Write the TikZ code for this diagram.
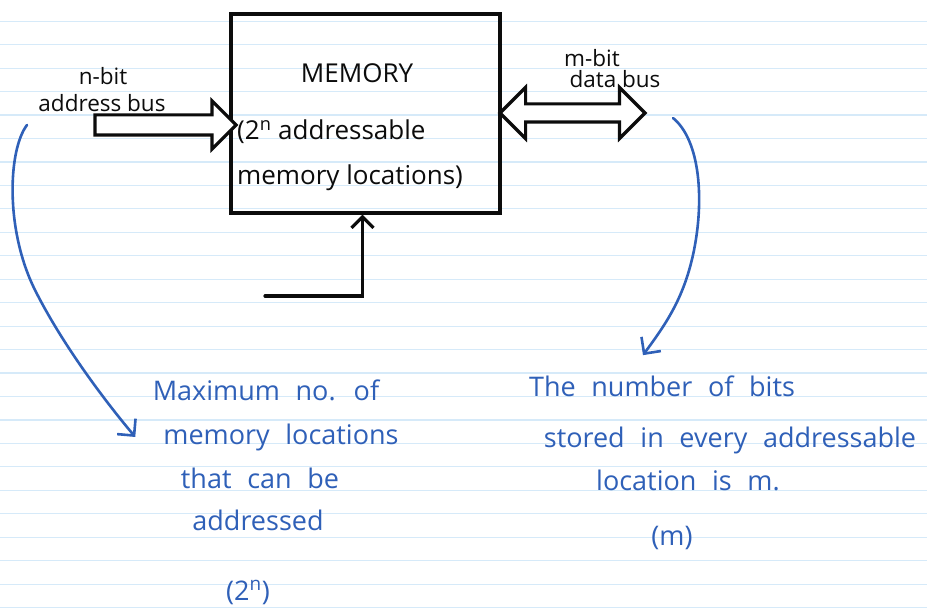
\documentclass[tikz,border=0pt]{standalone}
\usepackage{fontspec}
\setmainfont{Open Sans}
\usetikzlibrary{shapes.arrows,arrows.meta,positioning}
\definecolor{inkblack}{RGB}{12,12,12}
\definecolor{penblue}{RGB}{47,96,184}
\definecolor{ruleblue}{RGB}{214,234,249}
\newcommand{\boxfont}{\fontsize{26}{30}\selectfont}
\newcommand{\busfont}{\fontsize{22.5}{26}\selectfont}
\newcommand{\notefont}{\fontsize{27}{32}\selectfont\spaceskip=0.58em\relax}

\begin{document}
\begin{tikzpicture}[x=1pt, y=-1pt,
    ink/.style={draw=inkblack, line width=3.2pt},
    boxtext/.style={text=inkblack, font=\boxfont, inner sep=0pt},
    busname/.style={text=inkblack, font=\busfont, anchor=base, inner sep=0pt},
    note/.style={text=penblue, font=\notefont, anchor=base, inner sep=0pt},
    penline/.style={draw=penblue, line width=2.6pt, line cap=round,
      -{Straight Barb[length=12pt,width=24pt]}}]

  % ruled page
  \fill[white] (0,0) rectangle (927,615);
  \useasboundingbox (0,0) rectangle (927,615);
  \foreach \k in {0,...,25}
    \draw[ruleblue, line width=1.2pt] (0,21.3+23.45*\k) -- (927,21.3+23.45*\k);

  % memory block
  \node[ink, rectangle, minimum width=269pt, minimum height=199pt] (mem) at (365.5,113.5) {};
  \node[boxtext, anchor=base] (memname) at (357,83) {MEMORY};
  \node[boxtext, anchor=base west] (memcap) at (237,140) {(2$^{\mathrm{n}}$ addressable};
  \node[boxtext, anchor=base west] (memloc) at (237,185) {memory locations)};

  % buses
  \node[ink, fill=white, single arrow, single arrow head extend=14pt,
    minimum height=141pt, inner xsep=0pt, inner ysep=8.5pt] (addrbus) at (160.5,125) {};
  \node[busname] (addrbit) at (103,85) {n-bit};
  \node[busname] (addrname) at (102,112) {address bus};

  \node[ink, fill=white, double arrow, double arrow head extend=16.5pt,
    minimum height=145pt, inner xsep=0pt, inner ysep=7.5pt] (databus) at (572.5,113) {};
  \node[busname] (databit) at (592,67) {m-bit};
  \node[busname] (dataname) at (615,88) {data bus};

  % control input from below
  \coordinate (ctl) at (265,296);
  \draw[ink, line cap=round, -{Straight Barb[length=11pt,width=22pt]}]
    (ctl) -| ([xshift=-3pt]mem.south);

  % notes
  \node[note] (maxline) at (266,400) {Maximum no. of};
  \node[note] (maxloc) at (281,444) {memory locations};
  \node[note] (maxthat) at (260,488) {that can be};
  \node[note] (maxaddr) at (258,530) {addressed};
  \node[note] (maxval) at (248,600) {(2$^{\mathrm{n}}$)};

  \node[note] (bitsline) at (662,396) {The number of bits};
  \node[note] (bitsstore) at (730,447) {stored in every addressable};
  \node[note] (bitsloc) at (688,490) {location is m.};
  \node[note] (bitsval) at (672,545) {(m)};

  % pointers from the buses to the notes
  \coordinate (addrfrom) at (27,125);
  \coordinate (datafrom) at (673,118);
  \draw[penline] (addrfrom) .. controls (8,150) and (5,230) .. (35,290)
    .. controls (60,340) and (100,395) .. ([xshift=-28pt]maxloc.west);
  \draw[penline] (datafrom) .. controls (700,140) and (705,200) .. (693,255)
    .. controls (683,300) and (665,325) .. ([yshift=20pt]bitsline.north west -| 643,0);
\end{tikzpicture}
\end{document}
